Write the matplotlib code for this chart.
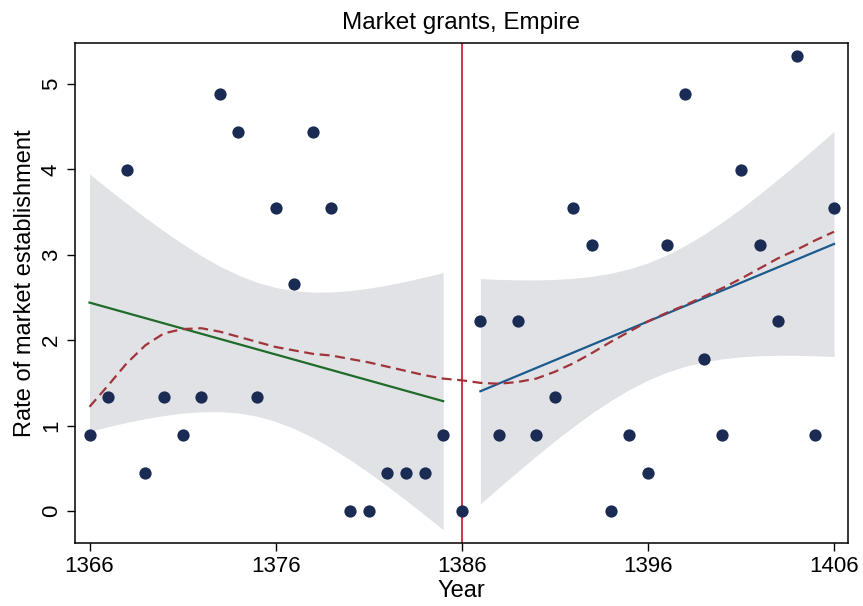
import numpy as np
import matplotlib
matplotlib.use("Agg")
import matplotlib.pyplot as plt

# market grants per year (rate)
years = list(range(1366, 1407))
rates = [0.89, 1.33, 3.99, 0.44, 1.33, 0.89, 1.33, 4.88, 4.44, 1.33,
         3.55, 2.66, 4.44, 3.55, 0.0, 0.0, 0.44, 0.44, 0.44, 0.89,
         0.0,
         2.22, 0.89, 2.22, 0.89, 1.33, 3.55, 3.11, 0.0, 0.89, 0.44,
         3.11, 4.88, 1.78, 0.89, 3.99, 3.11, 2.22, 5.33, 0.89, 3.55]

# smoothed (lowess) curve, read at each year
smooth = [1.22, 1.47, 1.73, 1.94, 2.08, 2.13, 2.14, 2.10, 2.04, 1.98,
          1.92, 1.88, 1.84, 1.82, 1.78, 1.74, 1.69, 1.64, 1.59, 1.55,
          1.53,
          1.50, 1.49, 1.51, 1.55, 1.63, 1.73, 1.85, 1.98, 2.10, 2.22,
          2.32, 2.41, 2.51, 2.61, 2.72, 2.84, 2.96, 3.06, 3.17, 3.27]

CUTOFF = 1386
T_CRIT = 2.101  # t(0.975, df=18)
FONT = ["Liberation Sans", "DejaVu Sans"]


def linear_fit(x, y):
    x = np.asarray(x, float)
    y = np.asarray(y, float)
    b, a = np.polyfit(x, y, 1)
    fit = a + b * x
    n = len(x)
    s = np.sqrt(np.sum((y - fit) ** 2) / (n - 2))
    se = s * np.sqrt(1 / n + (x - x.mean()) ** 2 / np.sum((x - x.mean()) ** 2))
    return x, fit, fit - T_CRIT * se, fit + T_CRIT * se


plt.rcParams["font.family"] = FONT

yr = np.array(years)
rt = np.array(rates)
left = yr < CUTOFF
right = yr > CUTOFF

fig = plt.figure(figsize=(8.63, 6.06), dpi=100)
ax = fig.add_axes([0.0869, 0.104, 0.8957, 0.825])

for mask, col in [(left, "#1f6b2a"), (right, "#1b5a8c")]:
    x, fit, lo, hi = linear_fit(yr[mask], rt[mask])
    ax.fill_between(x, lo, hi, color="#e1e2e5", lw=0, zorder=1)
    ax.plot(x, fit, color=col, lw=1.6, zorder=3)

ax.plot(years, smooth, color="#a0343a", lw=1.6, ls=(0, (4.5, 2.5)), zorder=4)
ax.axvline(CUTOFF, color="#d0223a", lw=1.3, zorder=2)
ax.scatter(years, rates, s=78, color="#1a2b54", zorder=5, linewidths=0)

ax.set_xlim(1365.22, 1406.75)
ax.set_ylim(-0.375, 5.48)
ax.set_xticks([1366, 1376, 1386, 1396, 1406])
ax.set_yticks([0, 1, 2, 3, 4, 5])
ax.tick_params(direction="out", length=6, width=1, labelsize=16)
for lab in ax.get_yticklabels():
    lab.set_rotation(90)
    lab.set_va("center")
for sp in ax.spines.values():
    sp.set_linewidth(1.1)

ax.set_title("Market grants, Empire", fontsize=17.5, pad=10)
ax.set_xlabel("Year", fontsize=17, labelpad=2)
ax.set_ylabel("Rate of market establishment", fontsize=17)
ax.yaxis.set_label_coords(-0.051, 0.52)

fig.savefig("out.png", dpi=100)
